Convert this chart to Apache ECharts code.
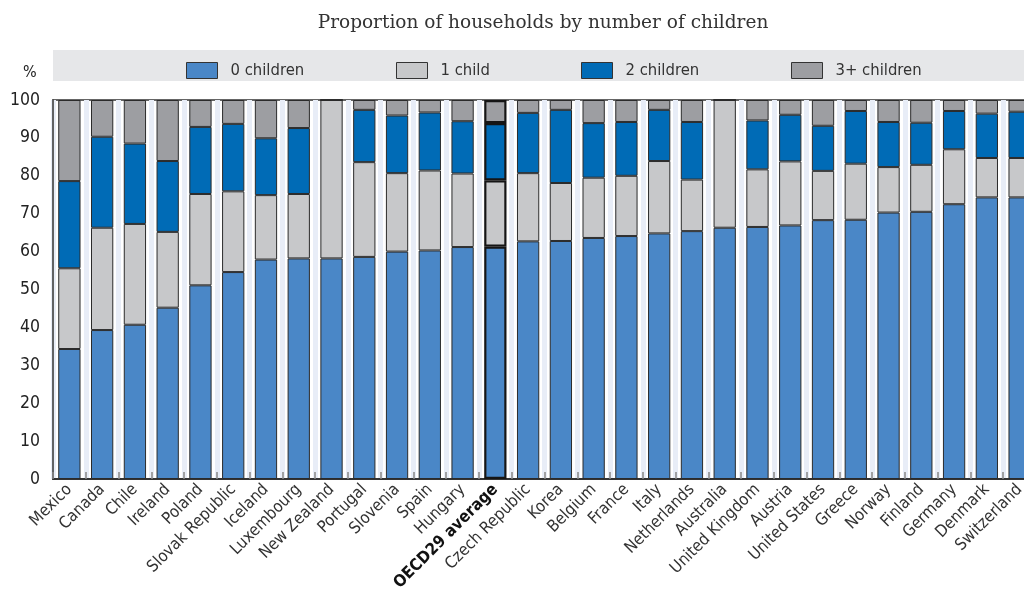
<!DOCTYPE html>
<html><head><meta charset="utf-8">
<script src="https://cdn.jsdelivr.net/npm/echarts@6/dist/echarts.min.js"></script>
<style>html,body{margin:0;padding:0;background:#fff}#c{width:1024px;height:590px}</style>
</head><body><div id="c"></div>
<script>
const categories = ["Mexico","Canada","Chile","Ireland","Poland","Slovak Republic","Iceland","Luxembourg","New Zealand","Portugal","Slovenia","Spain","Hungary","OECD29 average","Czech Republic","Korea","Belgium","France","Italy","Netherlands","Australia","United Kingdom","Austria","United States","Greece","Norway","Finland","Germany","Denmark","Switzerland"];
const zeroChildren = [34.3,39.3,40.7,45.2,51.1,54.6,57.9,58.2,58.2,58.6,60.0,60.3,61.2,61.3,62.7,62.8,63.6,64.1,64.8,65.4,66.3,66.5,66.9,68.3,68.4,70.3,70.5,72.5,74.3,74.3];
const oneChild = [21.3,27.0,26.6,20.0,24.1,21.3,17.0,17.0,41.8,25.0,20.7,21.1,19.4,17.5,18.0,15.3,15.9,15.9,19.1,13.6,33.7,15.2,16.9,13.0,14.8,12.0,12.4,14.5,10.4,10.4];
const twoChildren = [23.0,24.0,21.2,18.7,17.7,17.8,15.0,17.4,0,13.8,15.2,15.3,13.8,15.1,15.9,19.3,14.4,14.2,13.5,15.2,0,12.9,12.3,11.9,13.9,11.9,11.1,10.1,11.7,12.2];
const threePlus = [21.4,9.7,11.5,16.1,7.1,6.3,10.1,7.4,0,2.6,4.1,3.3,5.6,6.1,3.4,2.6,6.1,5.8,2.6,5.8,0,5.4,3.9,6.8,2.9,5.8,6.0,2.9,3.6,3.1];
const seriesNames = ["0 children","1 child","2 children","3+ children"];
const seriesColors = ["#4a87c7","#c7c8ca","#006bb6","#9d9ea2"];
const highlight = "OECD29 average";

const FONT = "'Liberation Sans Narrow','DejaVu Sans Condensed','Roboto',sans-serif";
const chart = echarts.init(document.getElementById('c'));
const hiIdx = categories.indexOf(highlight);
function mk(arr){
  return arr.map((v,i)=> i===hiIdx ? {value:v,itemStyle:{borderColor:'#151515',borderWidth:2.2}} : v);
}
const dataSets=[zeroChildren,oneChild,twoChildren,threePlus];
const legendLefts=[181,391,576,786];
chart.setOption({
  animation:false,
  backgroundColor:'#fff',
  title:{text:'Proportion of households by number of children',left:538,textAlign:'center',top:9,
    textStyle:{fontFamily:"'DejaVu Serif','Liberation Serif',serif",fontSize:18.5,fontWeight:'normal',color:'#333'}},
  graphic:[
    {type:'rect',shape:{x:53,y:50,width:1000,height:31},style:{fill:'#e6e7e9'},z:-1},
    {type:'text',x:23,y:65,style:{text:'%',font:"16px "+FONT,fill:'#222'}}
  ],
  legend: seriesNames.map((n,i)=>({data:[n],left:legendLefts[i],top:57,itemWidth:31,itemHeight:16,itemGap:10,
    icon:'rect',textStyle:{fontFamily:FONT,fontSize:16.5,color:'#333',padding:[0,0,0,8]},
    itemStyle:{borderColor:'#333',borderWidth:1}, selectedMode:false})),
  grid:{left:53,right:-12,top:100,bottom:111,show:true,borderColor:'#333',borderWidth:1.5,backgroundColor:'#fff',
    containLabel:false,outerBoundsMode:'none'},
  xAxis:{type:'category',data:categories,
    axisLine:{show:true,lineStyle:{color:'#333',width:2}},
    axisTick:{show:true,inside:true,length:7,alignWithLabel:false,interval:0,lineStyle:{color:'#888',width:1.5}},
    splitLine:{show:true,interval:0,lineStyle:{color:'#e8edf7',width:5}},
    axisLabel:{interval:0,rotate:45,margin:8,fontFamily:FONT,fontSize:16.5,color:'#333',
      formatter:(v)=> v===highlight ? '{b|'+v+'}' : v,
      rich:{b:{fontFamily:FONT,fontSize:16.5,fontWeight:'bold',color:'#111'}}}},
  yAxis:{type:'value',min:0,max:100,interval:10,
    axisLine:{show:true,lineStyle:{color:'#333',width:1.5}},axisTick:{show:false},splitLine:{show:false},
    axisLabel:{fontFamily:FONT,fontSize:17.5,color:'#222',margin:13}},
  series: seriesNames.map((n,i)=>({name:n,type:'bar',stack:'t',data:mk(dataSets[i]),barWidth:'68%',
    itemStyle:{color:seriesColors[i],borderColor:'#2b2b2b',borderWidth:1}}))
});
</script></body></html>
